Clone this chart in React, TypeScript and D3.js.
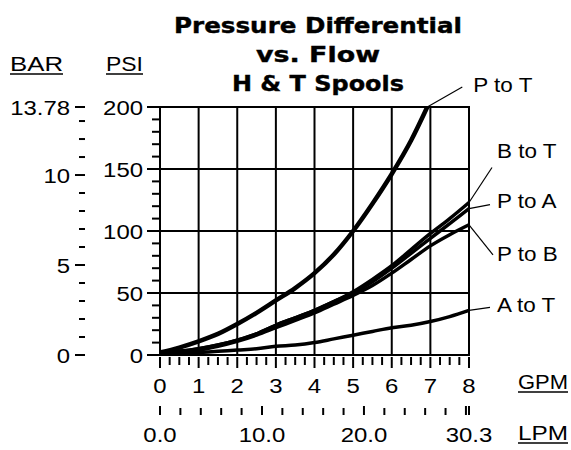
import React from 'react';
import * as d3 from 'd3';

// flow in GPM, pressure drop in PSI
const ptFlow = [0, 0.5, 1, 1.5, 2, 2.5, 3, 3.5, 4, 4.5, 5, 5.5, 6, 6.5, 6.92];
const ptPsi = [2, 6, 11, 17, 25, 34, 44, 54, 66, 81, 100, 122, 146, 173, 200];

const flow = [0, 0.5, 1, 1.5, 2, 2.5, 3, 3.5, 4, 4.5, 5, 5.5, 6, 6.5, 7, 7.5, 8];
const btPsi = [2, 3, 5, 8, 12, 17, 24, 30, 36, 43, 51, 61, 72, 85, 98, 110, 123];
const paPsi = [2, 3, 5, 8, 12, 17, 24, 30, 36, 43, 50, 59, 70, 82, 94, 106, 118];
const pbPsi = [2, 3, 4, 7, 11, 16, 22, 28, 34, 41, 48, 56, 66, 77, 88, 97, 105];
const atPsi = [1, 1, 2, 3, 4, 5, 7, 8, 10, 13, 16, 19, 22, 24, 27, 31, 36];

const seriesNames = ['P to T', 'B to T', 'P to A', 'P to B', 'A to T'];

const psiTicks = [0, 50, 100, 150, 200];
const barTicks = [0, 5, 10, 13.78];
const barLabels = ['0', '5', '10', '13.78'];
const gpmTicks = [0, 1, 2, 3, 4, 5, 6, 7, 8];
const lpmTicks = [0, 10, 20, 30.3];
const lpmLabels = ['0.0', '10.0', '20.0', '30.3'];

const titleLines = ['Pressure Differential', 'vs. Flow', 'H & T Spools'];

const FONT = '"Liberation Sans", Arial, sans-serif';

const T: React.FC<{ x: number; y: number; anchor?: string; sx?: number; children: React.ReactNode }> = ({
  x,
  y,
  anchor = 'start',
  sx = 1,
  children,
}) => (
  <text
    transform={`translate(${x},${y}) scale(${sx},1)`}
    textAnchor={anchor}
    fontFamily={FONT}
    fontSize={21}
    fill="#000"
  >
    {children}
  </text>
);

const App: React.FC = () => {
  const width = 571;
  const height = 450;

  const x = d3.scaleLinear().domain([0, 8]).range([160, 469]);
  const y = d3.scaleLinear().domain([0, 200]).range([355, 107]);
  const bar = d3.scaleLinear().domain([0, 13.78]).range([355, 107]);
  const lpm = d3.scaleLinear().domain([0, 30.3]).range([160, 469]);

  const line = d3
    .line<[number, number]>()
    .x((d) => x(d[0]))
    .y((d) => y(d[1]))
    .curve(d3.curveMonotoneX);

  const series = [
    { name: seriesNames[0], pts: ptFlow.map((f, i) => [f, ptPsi[i]] as [number, number]) },
    { name: seriesNames[1], pts: flow.map((f, i) => [f, btPsi[i]] as [number, number]) },
    { name: seriesNames[2], pts: flow.map((f, i) => [f, paPsi[i]] as [number, number]) },
    { name: seriesNames[3], pts: flow.map((f, i) => [f, pbPsi[i]] as [number, number]) },
    { name: seriesNames[4], pts: flow.map((f, i) => [f, atPsi[i]] as [number, number]) },
  ];

  // leader end and label position, relative to the curve end
  const callouts = [
    { lx: 35, ly: -20, tx: 46, ty: -15 },
    { lx: 23, ly: -35, tx: 28, ty: -44 },
    { lx: 21, ly: -4, tx: 28, ty: -1 },
    { lx: 24, ly: 30, tx: 28, ty: 36 },
    { lx: 21, ly: -3, tx: 28, ty: 2 },
  ];

  const psiMinor = d3.range(0, 201, 10);
  const barMinor = d3.range(0, 14, 1);
  const gpmMinor = d3.range(0, 8.001, 0.25);
  const lpmMinor = d3.range(0, 30.01, 2);

  const [x0, x1] = x.range();
  const [y0, y1] = y.range();

  return (
    <svg
      width={width}
      height={height}
      viewBox={`0 0 ${width} ${height}`}
      style={{ position: 'absolute', left: 0, top: 0, background: '#fff' }}
    >
      {/* title */}
      {titleLines.map((t, i) => (
        <text
          key={t}
          x={318}
          y={33 + i * 29}
          textAnchor="middle"
          fontFamily='"DejaVu Sans", Verdana, sans-serif'
          fontWeight="bold"
          fontSize={22}
          stroke="#000"
          strokeWidth={0.4}
          textLength={[288, 124, 172][i]}
          lengthAdjust="spacingAndGlyphs"
        >
          {t}
        </text>
      ))}

      {/* grid */}
      {gpmTicks.map((g) => (
        <line key={'gx' + g} x1={x(g)} x2={x(g)} y1={y1} y2={y0} stroke="#000" strokeWidth={2} />
      ))}
      {psiTicks.map((p) => (
        <line key={'gy' + p} x1={x0} x2={x1} y1={y(p)} y2={y(p)} stroke="#000" strokeWidth={2} />
      ))}

      {/* psi axis */}
      {psiMinor.map((p) => (
        <line
          key={'pt' + p}
          x1={p % 50 === 0 ? 147 : 152}
          x2={159}
          y1={y(p)}
          y2={y(p)}
          stroke="#000"
          strokeWidth={2}
        />
      ))}
      {psiTicks.map((p) => (
        <T key={'pl' + p} x={143} y={y(p) + 8} anchor="end" sx={1.14}>
          {p}
        </T>
      ))}

      {/* bar axis */}
      {barMinor.map((b) => (
        <line
          key={'bt' + b}
          x1={b % 5 === 0 ? 75 : 79}
          x2={85}
          y1={bar(b)}
          y2={bar(b)}
          stroke="#000"
          strokeWidth={2}
        />
      ))}
      <line x1={75} x2={85} y1={bar(13.78)} y2={bar(13.78)} stroke="#000" strokeWidth={2} />
      {barTicks.map((b, i) => (
        <T key={'bl' + b} x={70} y={bar(b) + 8} anchor="end" sx={1.14}>
          {barLabels[i]}
        </T>
      ))}

      {/* gpm axis */}
      {gpmMinor.map((g) => (
        <line
          key={'gt' + g}
          x1={x(g)}
          x2={x(g)}
          y1={357}
          y2={Number.isInteger(g) ? 368 : 365}
          stroke="#000"
          strokeWidth={2}
        />
      ))}
      {gpmTicks.map((g) => (
        <T key={'gl' + g} x={x(g)} y={393} anchor="middle" sx={1.14}>
          {g}
        </T>
      ))}

      {/* lpm axis */}
      {lpmMinor.map((l) => (
        <line
          key={'lt' + l}
          x1={lpm(l)}
          x2={lpm(l)}
          y1={l % 10 === 0 ? 406 : 408}
          y2={415}
          stroke="#000"
          strokeWidth={2}
        />
      ))}
      <line x1={lpm(30.3)} x2={lpm(30.3)} y1={406} y2={415} stroke="#000" strokeWidth={2} />
      {lpmTicks.map((l, i) => (
        <T key={'ll' + l} x={lpm(l)} y={442} anchor="middle" sx={1.14}>
          {lpmLabels[i]}
        </T>
      ))}

      {/* unit labels */}
      {[
        { t: 'BAR', x: 10, y: 71, w: 53 },
        { t: 'PSI', x: 106, y: 71, w: 37 },
        { t: 'GPM', x: 518, y: 389, w: 50 },
        { t: 'LPM', x: 518, y: 440, w: 50 },
      ].map((u) => (
        <g key={u.t}>
          <text
            x={u.x}
            y={u.y}
            fontFamily={FONT}
            fontSize={21}
            textLength={u.w}
            lengthAdjust="spacingAndGlyphs"
          >
            {u.t}
          </text>
          <line x1={u.x} x2={u.x + u.w} y1={u.y + 3} y2={u.y + 3} stroke="#000" strokeWidth={1.5} />
        </g>
      ))}

      {/* curves */}
      {series.map((s) => (
        <path
          key={s.name}
          d={line(s.pts) || ''}
          fill="none"
          stroke="#000"
          strokeWidth={s.name === 'P to T' ? 4.5 : 3.5}
          strokeLinejoin="round"
        />
      ))}

      {/* callouts */}
      {series.map((s, i) => {
        const end = s.pts[s.pts.length - 1];
        const ex = x(end[0]);
        const ey = y(end[1]);
        const c = callouts[i];
        return (
          <g key={'c' + s.name}>
            <line x1={ex} y1={ey} x2={ex + c.lx} y2={ey + c.ly} stroke="#000" strokeWidth={1.2} />
            <T x={ex + c.tx} y={ey + c.ty} sx={1.07}>
              {s.name}
            </T>
          </g>
        );
      })}

      {/* border */}
      <rect x={x0} y={y1} width={x1 - x0} height={y0 - y1} fill="none" stroke="#000" strokeWidth={2} />
    </svg>
  );
};

export default App;
